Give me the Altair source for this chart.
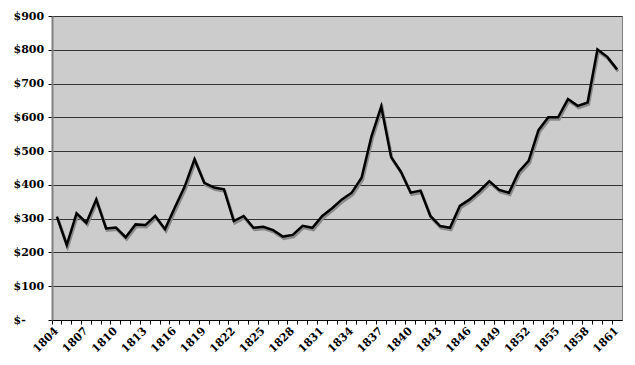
import altair as alt
import pandas as pd

years = list(range(1804, 1862))
values = [306, 222, 316, 288, 357, 271, 274, 245, 283, 281,
          308, 269, 333, 395, 476, 406, 392, 387, 293, 308,
          273, 276, 266, 247, 252, 279, 273, 308, 331, 357,
          377, 421, 543, 632, 483, 439, 377, 383, 308, 278,
          273, 338, 357, 382, 411, 385, 377, 439, 471, 562,
          600, 600, 654, 634, 644, 801, 779, 742]
y_ticks = [0, 100, 200, 300, 400, 500, 600, 700, 800, 900]

df = pd.DataFrame({"year": years, "price": values})

font = "DejaVu Serif"

x_enc = alt.X(
    "year:O",
    scale=alt.Scale(type="band", paddingInner=0, paddingOuter=0),
    axis=alt.Axis(
        title=None,
        bandPosition=0,
        labelExpr="((datum.value - 1804) % 3 == 0) ? datum.label : ''",
        labelAngle=-45,
        labelAlign="right",
        labelBaseline="middle",
        labelOverlap=False,
        labelFont=font,
        labelFontWeight="bold",
        labelFontSize=11,
        labelColor="black",
        labelPadding=5,
        tickColor="black",
        tickSize=4,
        domainColor="black",
        domainWidth=1,
        grid=False,
    ),
)

y_enc = alt.Y(
    "price:Q",
    scale=alt.Scale(domain=[0, 900], nice=False),
    axis=alt.Axis(
        title=None,
        values=y_ticks,
        labelExpr="datum.value == 0 ? '$-' : '$' + datum.value",
        labelAlign="left",
        labelPadding=35,
        labelFont=font,
        labelFontWeight="bold",
        labelFontSize=11,
        labelColor="black",
        tickColor="black",
        tickSize=4,
        domainColor="#808080",
        domainWidth=2,
        grid=True,
        gridColor="#333333",
        gridWidth=1,
    ),
)

shadow = alt.Chart(df).mark_line(
    color="#8a8a8a", strokeWidth=3, xOffset=1, yOffset=2, strokeJoin="miter"
).encode(x=x_enc, y=y_enc)

line = alt.Chart(df).mark_line(
    color="black", strokeWidth=2.5, strokeJoin="miter"
).encode(x=x_enc, y=y_enc)

chart = (
    alt.layer(shadow, line)
    .properties(
        width=570,
        height=304,
        background="white",
        autosize=alt.AutoSizeParams(type="none"),
        padding={"left": 44, "top": 8, "right": 5, "bottom": 45},
    )
    .configure_view(fill="#cccccc", stroke="#808080", strokeWidth=1)
)

chart.save("out.html", embed_options={"renderer": "svg", "actions": False})
